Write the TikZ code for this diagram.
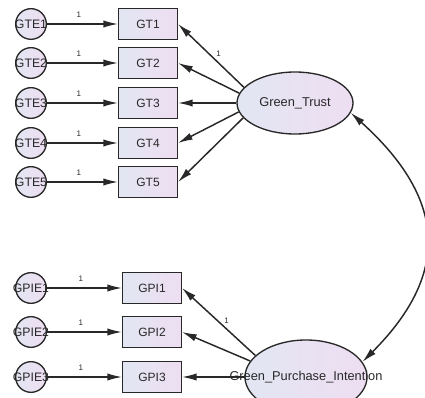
\documentclass[tikz,border=0pt]{standalone}
\usepackage{fontspec}
\setmainfont{Liberation Sans}
\usetikzlibrary{arrows.meta,shapes.geometric}
\definecolor{fillL}{RGB}{226,230,242}
\definecolor{fillR}{RGB}{238,222,242}
\definecolor{ink}{RGB}{40,40,40}

\begin{document}
\begin{tikzpicture}[x=0.75pt,y=0.75pt,
	obs/.style={draw=ink, line width=1pt, rectangle, minimum width=44pt, minimum height=23pt, inner sep=0pt, left color=fillL, right color=fillR, text=ink, font=\fontsize{9}{11}\selectfont},
	err/.style={draw=ink, line width=1pt, circle, minimum size=23pt, inner sep=0pt, left color=fillL, right color=fillR},
	errlab/.style={text=ink, inner sep=0pt, font=\fontsize{9.2}{11}\selectfont},
	lat/.style={draw=ink, line width=1pt, ellipse, inner sep=0pt, left color=fillL, right color=fillR, text=ink, font=\fontsize{9.6}{11}\selectfont},
	reg/.style={-{Latex[length=11pt,width=5.5pt]}, draw=ink, line width=1.1pt},
	one/.style={text=ink, inner sep=1pt, font=\fontsize{6}{7}\selectfont}]
	\useasboundingbox (0,0) rectangle (425,397);
	\clip (0,0) rectangle (425,397);

	% green trust block
	\node[err, label={[errlab]center:GTE1}] (gte1) at (31,373) {};
	\node[err, label={[errlab]center:GTE2}] (gte2) at (31,334) {};
	\node[err, label={[errlab]center:GTE3}] (gte3) at (31,294) {};
	\node[err, label={[errlab]center:GTE4}] (gte4) at (31,254) {};
	\node[err, label={[errlab]center:GTE5}] (gte5) at (31,215) {};

	\node[obs] (gt1) at (148,373) {GT1};
	\node[obs] (gt2) at (148,334) {GT2};
	\node[obs] (gt3) at (148,294) {GT3};
	\node[obs] (gt4) at (148,254) {GT4};
	\node[obs] (gt5) at (148,215) {GT5};

	\node[lat, minimum width=87pt, minimum height=46.5pt] (trust) at (295,294) {Green\_Trust};

	\draw[reg] (gte1) -- node[one, above=3.5pt, pos=0.45] {1} (gt1);
	\draw[reg] (gte2) -- node[one, above=3.5pt, pos=0.45] {1} (gt2);
	\draw[reg] (gte3) -- node[one, above=3.5pt, pos=0.45] {1} (gt3);
	\draw[reg] (gte4) -- node[one, above=3.5pt, pos=0.45] {1} (gt4);
	\draw[reg] (gte5) -- node[one, above=3.5pt, pos=0.45] {1} (gt5);

	\draw[reg] (trust.163) -- node[one, above right, pos=0.45] {1} (gt1.east);
	\draw[reg] (trust.170) -- (gt2.east);
	\draw[reg] (trust.180) -- (gt3.east);
	\draw[reg] (trust.189) -- (gt4.east);
	\draw[reg] (trust.196) -- (gt5.east);

	% green purchase intention block
	\node[err, label={[errlab]center:GPIE1}] (gpie1) at (31,109) {};
	\node[err, label={[errlab]center:GPIE2}] (gpie2) at (31,65) {};
	\node[err, label={[errlab]center:GPIE3}] (gpie3) at (31,20) {};

	\node[obs] (gpi1) at (152,109) {GPI1};
	\node[obs] (gpi2) at (152,65) {GPI2};
	\node[obs] (gpi3) at (152,20) {GPI3};

	\node[lat, minimum width=91.5pt, minimum height=55.5pt, label={[errlab, font=\fontsize{9.6}{11}\selectfont]center:Green\_Purchase\_Intention}] (intention) at (306,20) {};

	\draw[reg] (gpie1) -- node[one, above=3.5pt, pos=0.45] {1} (gpi1);
	\draw[reg] (gpie2) -- node[one, above=3.5pt, pos=0.45] {1} (gpi2);
	\draw[reg] (gpie3) -- node[one, above=3.5pt, pos=0.45] {1} (gpi3);

	\draw[reg] (intention.157) -- node[one, above right, pos=0.45] {1} (gpi1.east);
	\draw[reg] (intention.164) -- (gpi2.east);
	\draw[reg] (intention.180) -- (gpi3.east);

	% covariance
	\draw[reg, {Latex[length=11pt,width=5.5pt]}-{Latex[length=11pt,width=5.5pt]}] (trust.-10) to[out=-42, in=45, looseness=1.3] (intention.15);
\end{tikzpicture}
\end{document}
